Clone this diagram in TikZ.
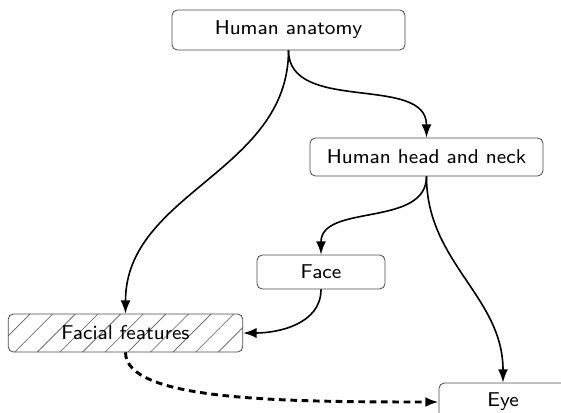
\documentclass[tikz,border=0pt]{standalone}
\usepackage{fontspec}
\newfontfamily\boxfont{lmsans8-regular.otf}
\usetikzlibrary{arrows.meta,patterns.meta}
\begin{document}
\begin{tikzpicture}[x=0.75pt,y=-0.75pt,
  box/.style={draw=black!70,line width=0.6pt,rounded corners=4pt,fill=white,
    font=\boxfont\fontsize{15}{18}\selectfont,inner sep=0pt},
  link/.style={line width=1.2pt,-{Latex[length=10pt,width=7.5pt]}},
  weaklink/.style={line width=2.2pt,dash pattern=on 5pt off 3.5pt,
    -{Latex[length=10pt,width=7.5pt]}},
  hatched/.style={pattern={Lines[angle=45,distance=12pt,line width=0.5pt]},
    pattern color=black!65}]
\useasboundingbox (0,0) rectangle (561,412);

\node[box,minimum width=174.75pt,minimum height=30pt] (anat) at (288.5,30) {Human anatomy};
\node[box,minimum width=174.75pt,minimum height=28.5pt] (head) at (426.5,157) {Human head and neck};
\node[box,minimum width=96pt,minimum height=25.5pt] (face) at (321,272) {Face};
\node[box,hatched,minimum width=176pt,minimum height=28.5pt] (feat) at (125.5,333) {Facial features};
\node[box,minimum width=96pt,minimum height=28.5pt] (eye) at (503,402) {Eye};

\draw[link] (anat.south) to[out=-90,in=90] (head.north);
\draw[link] (anat.south) to[out=-90,in=90] (feat.north);
\draw[link] (head.south) to[out=-90,in=90] (face.north);
\draw[link] (head.south) to[out=-90,in=90] (eye.north);
\draw[link] (face.south) to[out=-90,in=0] (feat.east);
\draw[weaklink] (feat.south) to[out=-90,in=180,out distance=36pt,in distance=120pt] (eye.west);
\end{tikzpicture}
\end{document}
